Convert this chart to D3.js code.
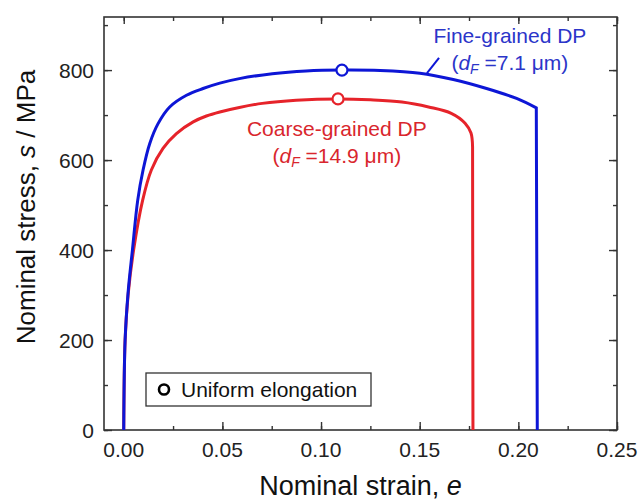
<!DOCTYPE html>
<html>
<head>
<meta charset="utf-8">
<script src="https://cdn.jsdelivr.net/npm/d3@7"></script>
<style>
  body { margin: 0; background: #fff; }
  text { font-family: Arial, "Liberation Sans", sans-serif; }
</style>
</head>
<body>
<div id="chart"></div>
<script>
// data (strain, stress in MPa)
var fineStrain = [0, 0.0007, 0.0022, 0.0044, 0.0071, 0.0098, 0.0132, 0.0174, 0.0233, 0.0318, 0.0402, 0.0487, 0.0586, 0.0753, 0.0924, 0.1106, 0.1300, 0.1501, 0.167, 0.1839, 0.1991, 0.2091, 0.2096];
var fineStress = [0, 200, 305, 400, 511, 578, 637, 681, 718, 744, 759, 771, 781, 792, 798, 800, 799, 793, 779, 759, 737, 716, 0];

var coarseStrain = [0, 0.0007, 0.0022, 0.005, 0.0096, 0.014, 0.0199, 0.0267, 0.0352, 0.0419, 0.0487, 0.0586, 0.0702, 0.0874, 0.1086, 0.125, 0.141, 0.1545, 0.166, 0.173, 0.176, 0.1768, 0.177];
var coarseStress = [0, 200, 300, 400, 511, 578, 626, 659, 685, 698, 707, 717, 726, 733, 736, 734, 729, 718, 704, 682, 660, 629, 0];

// uniform elongation points
var ueStrain = [0.1106, 0.1086];
var ueStress = [800, 736];

var xTicks = [0, 0.05, 0.10, 0.15, 0.20, 0.25];
var yTicks = [0, 200, 400, 600, 800];

var blue = "#0d16d6", red = "#e6232a";

var width = 639, height = 501;
var margin = {top: 17, right: 22, bottom: 71, left: 104};

var svg = d3.select("#chart").append("svg")
    .attr("width", width)
    .attr("height", height);

var x = d3.scaleLinear().domain([-0.01, 0.25]).range([margin.left, width - margin.right]);
var y = d3.scaleLinear().domain([0, 918]).range([height - margin.bottom, margin.top]);

// minor + major ticks, pointing inward on all four sides
var xMinor = d3.range(0, 0.2501, 0.025);
var yMinor = d3.range(0, 901, 100);

function tickAxis(axis, vals, len) {
  return axis.tickValues(vals).tickSizeInner(len).tickSizeOuter(0).tickFormat("");
}

var frame = svg.append("g");
// bottom
frame.append("g").attr("transform", `translate(0,${y(0)})`)
    .call(tickAxis(d3.axisTop(x), xMinor, 4));
frame.append("g").attr("transform", `translate(0,${y(0)})`)
    .call(tickAxis(d3.axisTop(x), xTicks, 8));
// top
frame.append("g").attr("transform", `translate(0,${margin.top})`)
    .call(tickAxis(d3.axisBottom(x), xMinor, 4));
frame.append("g").attr("transform", `translate(0,${margin.top})`)
    .call(tickAxis(d3.axisBottom(x), xTicks, 7));
// left
frame.append("g").attr("transform", `translate(${margin.left},0)`)
    .call(tickAxis(d3.axisRight(y), yMinor, 4));
frame.append("g").attr("transform", `translate(${margin.left},0)`)
    .call(tickAxis(d3.axisRight(y), yTicks, 8));
// right
frame.append("g").attr("transform", `translate(${width - margin.right},0)`)
    .call(tickAxis(d3.axisLeft(y), yMinor, 4));
frame.append("g").attr("transform", `translate(${width - margin.right},0)`)
    .call(tickAxis(d3.axisLeft(y), yTicks, 8));

frame.selectAll("path").remove();
frame.selectAll("line").attr("stroke", "#333").attr("stroke-width", 1.4);

svg.append("rect")
    .attr("x", margin.left).attr("y", margin.top)
    .attr("width", width - margin.right - margin.left)
    .attr("height", y(0) - margin.top)
    .attr("fill", "none").attr("stroke", "#333").attr("stroke-width", 1.6);

// tick labels
svg.append("g").selectAll("text").data(xTicks).enter().append("text")
    .attr("x", d => x(d)).attr("y", 457)
    .attr("text-anchor", "middle")
    .attr("font-size", 21).attr("fill", "#222")
    .text(d => d.toFixed(2));

svg.append("g").selectAll("text").data(yTicks).enter().append("text")
    .attr("x", 94).attr("y", d => y(d) + 7.5)
    .attr("text-anchor", "end")
    .attr("font-size", 21).attr("fill", "#222")
    .text(d => d);

// axis titles
var xt = svg.append("text")
    .attr("x", (x(-0.01) + x(0.25)) / 2).attr("y", 495)
    .attr("text-anchor", "middle").attr("font-size", 27).attr("fill", "#111");
xt.append("tspan").text("Nominal strain, ");
xt.append("tspan").attr("font-style", "italic").text("e");

var yt = svg.append("text")
    .attr("transform", "translate(35,207) rotate(-90)")
    .attr("text-anchor", "middle").attr("font-size", 26).attr("fill", "#111");
yt.append("tspan").text("Nominal stress, ");
yt.append("tspan").attr("font-style", "italic").text("s");
yt.append("tspan").text(" / MPa");

// curves: smooth through the hardening part, straight drop at fracture
var smooth = d3.line()
    .x(d => x(d[0])).y(d => y(d[1]))
    .curve(d3.curveCatmullRom.alpha(0.5));

function curvePath(pts) {
  var last = pts[pts.length - 1];
  return smooth(pts.slice(0, -1)) + "L" + x(last[0]) + "," + y(last[1]);
}

var fine = fineStrain.map((s, i) => [s, fineStress[i]]);
var coarse = coarseStrain.map((s, i) => [s, coarseStress[i]]);

svg.append("path")
    .attr("d", curvePath(coarse)).attr("fill", "none")
    .attr("stroke", red).attr("stroke-width", 3);
svg.append("path")
    .attr("d", curvePath(fine)).attr("fill", "none")
    .attr("stroke", blue).attr("stroke-width", 3);

// uniform elongation markers
svg.append("g").selectAll("circle").data(ueStrain).enter().append("circle")
    .attr("cx", d => x(d)).attr("cy", (d, i) => y(ueStress[i]))
    .attr("r", 5.5)
    .attr("fill", "#fff")
    .attr("stroke", (d, i) => i === 0 ? blue : red)
    .attr("stroke-width", 2.2);

// curve labels
function label(cx, by, color, name, size) {
  var g = svg.append("g").attr("fill", color).attr("font-size", 21);
  g.append("text").attr("x", x(cx)).attr("y", y(by))
      .attr("text-anchor", "middle")
      .text(name);
  var t = g.append("text").attr("x", x(cx)).attr("y", y(by) + 27)
      .attr("text-anchor", "middle");
  t.append("tspan").text("(");
  t.append("tspan").attr("font-style", "italic").text("d");
  t.append("tspan").attr("font-style", "italic").attr("font-size", 14).attr("dy", 4).text("F");
  t.append("tspan").attr("dy", -4).text(" =" + size + " μm)");
}
label(0.1957, 860, "#2b35c9", "Fine-grained DP", "7.1");
label(0.1080, 653, "#d9262d", "Coarse-grained DP", "14.9");

// leader line for the fine-grained curve
svg.append("line")
    .attr("x1", x(0.1537)).attr("y1", y(793))
    .attr("x2", x(0.1598)).attr("y2", y(827))
    .attr("stroke", blue).attr("stroke-width", 2);

// legend
var lg = svg.append("g");
lg.append("rect")
    .attr("x", 146).attr("y", 373).attr("width", 225).attr("height", 33)
    .attr("fill", "#fff").attr("stroke", "#333").attr("stroke-width", 1.3);
lg.append("circle")
    .attr("cx", 164).attr("cy", 389.5).attr("r", 5)
    .attr("fill", "#fff").attr("stroke", "#000").attr("stroke-width", 2.6);
lg.append("text")
    .attr("x", 181).attr("y", 397)
    .attr("font-size", 21).attr("fill", "#111")
    .text("Uniform elongation");
</script>
</body>
</html>
